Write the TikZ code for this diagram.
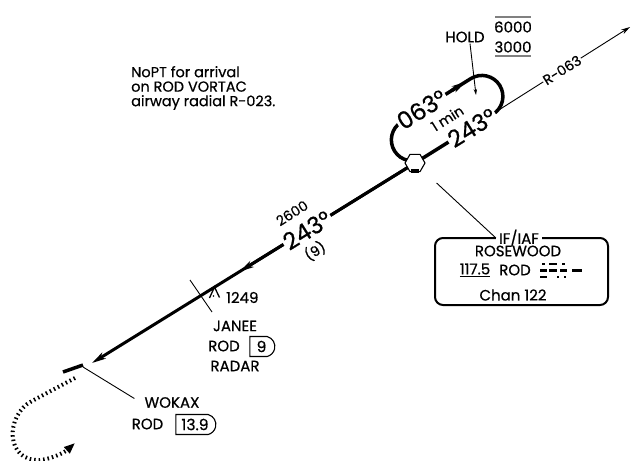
\documentclass[tikz,border=0pt]{standalone}
\usepackage{fontspec}
\setmainfont{Poppins}[FakeBold=0.6]
\usetikzlibrary{positioning}
\usetikzlibrary{shapes.geometric,shapes.misc,arrows.meta}

\begin{document}
\begin{tikzpicture}[x=1pt,y=-1pt,
  course/.style={line width=3pt},
  holdleg/.style={line width=3.5pt},
  thinline/.style={line width=0.9pt},
  bigtip/.style={-{Stealth[length=14pt,width=7pt,inset=4pt]}},
  lbl/.style={font=\fontsize{15}{15}\selectfont,inner sep=1pt},
  small/.style={font=\fontsize{14}{14}\selectfont,inner sep=1pt},
  hdg/.style={font=\fontsize{23.5}{23.5}\selectfont,inner sep=1.5pt,rotate=32},
  dmebox/.style={draw,line width=1.1pt,rounded rectangle,rounded rectangle left arc=none,
    rounded rectangle arc length=150,font=\fontsize{15.5}{15.5}\selectfont,
    inner sep=2pt,minimum height=20pt}]
 \useasboundingbox (0,0) rectangle (631,460);
 \coordinate (vor) at (415,163);
 \coordinate (wkend) at (92,363);
 \coordinate (midtip) at (240,271.4);
 \coordinate (r063) at (630,27);
 \coordinate (holdpt) at (476,95);
 \coordinate (wokaxfix) at (83,367);

 % radial and course
 \draw[thinline,-{Stealth[length=9pt,width=5pt]}] (vor) -- (r063);
 \node[small,fill=white,rotate=32] (rlab) at (562,70) {R-063};
 \draw[course,bigtip] (vor) -- (wkend);
 \draw[course,bigtip] (vor) -- (midtip);
 \node[hdg,fill=white] (crs) at (307,230) {243°};
 \node[small,rotate=32] (alt) at (292,213) {2600};
 \node[small,rotate=32] (dist) at (315,251) {(9)};

 % holding pattern
 \begin{scope}[shift={(vor)},rotate=32]
  \draw[holdleg] (10,0) -- (92,0) arc[start angle=90,end angle=-90,radius=21]
    -- (10,-42) arc[start angle=-90,end angle=-270,radius=21];
  \draw[holdleg,bigtip] (70,-42) -- (86,-42);
  \draw[holdleg,bigtip] (56,0) -- (39,0);
  \node[hdg,fill=white] (outb) at (34,-42) {063°};
  \node[hdg,fill=white] (inb) at (67,0) {243°};
  \node[small,rotate=32] (onemin) at (51,-21) {1 min};
 \end{scope}
 \node[lbl] (hold) at (465,37) {HOLD};
 \node[lbl] (mha) at (513,27) {6000};
 \node[lbl] (mhb) at (513,47) {3000};
 \draw[gray,line width=1.2pt] (495,17) -- (531,17);
 \draw[gray,line width=1.2pt] (495,56) -- (531,56);
 \draw[thinline,-{Stealth[length=6pt,width=3.5pt]}] ([xshift=5pt]hold.south) -- (holdpt);

 % VORTAC
 \node[regular polygon,regular polygon sides=6,draw,fill=white,line width=1.1pt,
   minimum size=20pt,inner sep=0pt] (iaf) at (vor) {};
 \fill (411,168.5) rectangle (419,172.5);

 % navaid box
 \node[draw,line width=2pt,rounded corners=8pt,minimum width=173pt,minimum height=67pt]
   (navbox) at (521.5,271.5) {};
 \node[lbl,fill=white,inner xsep=3pt] (iflab) at (519,238) {IF/IAF};
 \draw[thinline,shorten <=20pt] (iaf) -- (iflab.west);
 \node[lbl] (rosewood) at (518,251) {ROSEWOOD};
 \node[lbl] (freq) at (475,270) {\underline{117.5}};
 \node[lbl] (rod) at (515,270) {ROD};
 \node[lbl] (chan) at (513,295) {Chan 122};
 % morse
 \fill (542.3,262.8) rectangle (544.7,265.2);
 \fill (548.5,262.8) rectangle (557,265.2);
 \fill (562.3,262.8) rectangle (564.7,265.2);
 \fill (540,269.3) rectangle (547,271.7);
 \fill (549,269.3) rectangle (557,271.7);
 \fill (560,269.3) rectangle (567,271.7);
 \fill (572,269.3) rectangle (582,271.7);
 \fill (540,275.8) rectangle (547,278.2);
 \fill (556.8,275.8) rectangle (559.2,278.2);
 \fill (563.8,275.8) rectangle (566.2,278.2);

 % JANEE
 \draw[thinline] (190,280) -- (212,312);
 \draw[line width=1.3pt] (209.5,298) -- (214.5,287) -- (219.5,297.5);
 \fill (213.5,296) circle (0.9);
 \node[lbl,anchor=west] (elev) at (225,297.5) {1249};
 \node[lbl] (janee) at (235,326) {JANEE};
 \node[lbl] (janrod) at (224,346) {ROD};
 \node[dmebox,minimum width=29pt] (jandme) at (261.5,346.5) {9};
 \node[lbl] (radar) at (235,366) {RADAR};

 % WOKAX
 \draw[line width=3.5pt] (63,372) -- (83,365);
 \node[lbl] (wokax) at (172,402.5) {WOKAX};
 \draw[thinline] (wokaxfix) -- ([shift={(-9pt,4pt)}]wokax.west);
 \node[lbl] (wkrod) at (147.5,424) {ROD};
 \node[dmebox,minimum width=44pt] (wkdme) at (195,424.5) {13.9};
 \draw[line width=4pt,dash pattern=on 1.5pt off 3pt,-{Triangle[length=11pt,width=8pt]}]
   (75,378) -- (32,401) .. controls (5,415) and (5,462) .. (40,460)
   .. controls (52,459) and (65,452) .. (75,443);

 % note
 \node[anchor=west,align=left,font=\fontsize{14.5}{14.5}\selectfont,inner sep=0pt]
   (note) at (131,88) {NoPT for arrival\\on ROD VORTAC\\airway radial R-023.};
\end{tikzpicture}
\end{document}
